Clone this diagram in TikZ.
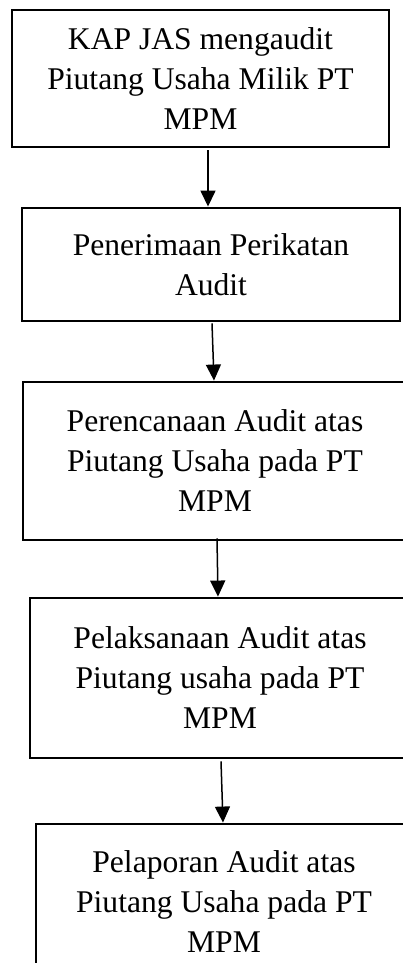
\documentclass[tikz,border=0pt]{standalone}
\usepackage{fontspec}
\setmainfont{Liberation Serif}
\usetikzlibrary{arrows.meta,calc}

\begin{document}
\begin{tikzpicture}[>={Triangle[length=16pt,width=15pt]}, x=1pt, y=1pt,
    stepbox/.style={draw, line width=2.9pt, align=center, inner sep=0pt,
        font={\fontsize{31.6pt}{40pt}\selectfont}},
    flow/.style={->, line width=1.5pt}]
    % Page frame
    \useasboundingbox (0,0) rectangle (403,-963);

    % Steps
    \node[stepbox, minimum width=377pt, minimum height=137pt] (kap) at (200.5,-78.5)
        {KAP JAS mengaudit\\Piutang Usaha Milik PT\\MPM};
    \node[stepbox, minimum width=378pt, minimum height=113pt] (terima) at (211,-264.5)
        {Penerimaan Perikatan\\Audit};
    \node[stepbox, minimum width=384pt, minimum height=158pt] (rencana) at (215,-461)
        {Perencanaan Audit atas\\Piutang Usaha pada PT\\MPM};
    \node[stepbox, minimum width=380pt, minimum height=160pt] (laksana) at (220,-678)
        {Pelaksanaan Audit atas\\Piutang usaha pada PT\\MPM};
    \node[stepbox, minimum width=376pt, minimum height=156pt] (lapor) at (224,-902)
        {Pelaporan Audit atas\\Piutang Usaha pada PT\\MPM};

    % Arrows
    \draw[flow] ([xshift=7.5pt, yshift=-2pt]kap.south) -- ([xshift=-3pt]terima.north);
    \draw[flow] ([xshift=1pt, yshift=-1pt]terima.south) -- ([xshift=-1pt]rencana.north);
    \draw[flow] ([xshift=2pt, yshift=3pt]rencana.south) -- ([xshift=-2pt]laksana.north);
    \draw[flow] ([xshift=1pt, yshift=-2pt]laksana.south) -- ([xshift=-1pt]lapor.north);

\end{tikzpicture}
\end{document}
